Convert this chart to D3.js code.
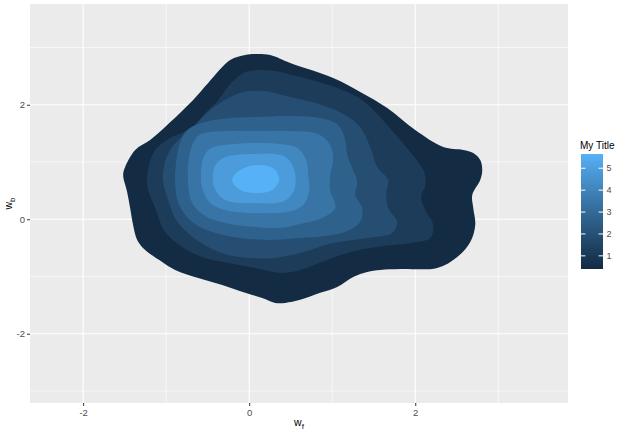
<!DOCTYPE html>
<html><head><meta charset="utf-8">
<script src="https://cdn.jsdelivr.net/npm/d3@7"></script>
<style>body{margin:0;background:#fff} svg{display:block}</style>
</head><body><svg id="chart" width="625" height="435"></svg>
<script>
// ---- data: density contour levels (outer -> inner) and their outlines in data units (w_f, w_b)
const levels = [0.40, 1.15, 1.90, 2.65, 3.40, 4.15, 4.90, 5.65];
const legendBreaks = [1, 2, 3, 4, 5];
const xBreaks = [-2, 0, 2];
const yBreaks = [-2, 0, 2];
const xMinor = [-1, 1, 3];
const yMinor = [-3, -1, 1, 3];

const contour1 = [[0.072,2.885],[0.253,2.867],[0.494,2.728],[1.012,2.466],[1.337,2.222],[1.663,1.942],[2.000,1.558],[2.337,1.262],[2.578,1.210],[2.699,1.157],[2.783,1.035],[2.807,0.860],[2.783,0.686],[2.687,0.424],[2.699,0.197],[2.723,-0.099],[2.663,-0.396],[2.506,-0.658],[2.265,-0.850],[1.819,-0.868],[1.578,-0.885],[1.422,-0.920],[1.253,-1.007],[1.060,-1.182],[0.855,-1.286],[0.614,-1.408],[0.434,-1.461],[0.313,-1.461],[0.157,-1.374],[-0.048,-1.286],[-0.325,-1.147],[-0.614,-1.025],[-0.892,-0.885],[-1.048,-0.746],[-1.253,-0.536],[-1.349,-0.361],[-1.398,-0.099],[-1.434,0.197],[-1.470,0.476],[-1.518,0.773],[-1.494,0.913],[-1.373,1.210],[-1.193,1.384],[-1.000,1.628],[-0.675,2.082],[-0.494,2.379],[-0.229,2.780],[-0.048,2.867]];
const contour2 = [[0.108,2.606],[0.313,2.588],[0.518,2.518],[0.795,2.414],[1.096,2.274],[1.361,2.082],[1.554,1.820],[1.735,1.524],[1.940,1.175],[2.108,0.825],[2.120,0.599],[2.072,0.389],[2.120,0.162],[2.217,-0.099],[2.181,-0.326],[1.940,-0.414],[1.735,-0.449],[1.542,-0.483],[1.217,-0.571],[0.940,-0.711],[0.614,-0.885],[0.373,-0.937],[0.072,-0.850],[-0.253,-0.763],[-0.566,-0.658],[-0.807,-0.483],[-1.012,-0.222],[-1.133,0.197],[-1.229,0.599],[-1.205,0.948],[-1.133,1.210],[-0.952,1.419],[-0.699,1.593],[-0.530,1.855],[-0.373,2.082],[-0.229,2.361],[-0.048,2.571]];
const contour3 = [[0.012,2.239],[0.193,2.239],[0.398,2.169],[0.651,2.082],[0.916,1.977],[1.157,1.820],[1.337,1.611],[1.458,1.262],[1.542,0.913],[1.675,0.686],[1.651,0.459],[1.675,0.197],[1.783,-0.047],[1.723,-0.239],[1.422,-0.326],[1.012,-0.414],[0.614,-0.588],[0.313,-0.676],[0.012,-0.676],[-0.253,-0.623],[-0.494,-0.483],[-0.711,-0.274],[-0.880,-0.012],[-0.976,0.337],[-1.036,0.651],[-1.024,0.948],[-0.952,1.210],[-0.831,1.419],[-0.651,1.646],[-0.470,1.908],[-0.253,2.117],[-0.108,2.204]];
const contour4 = [[-0.747,1.558],[-0.530,1.698],[-0.229,1.768],[0.072,1.785],[0.494,1.803],[0.855,1.768],[1.072,1.646],[1.157,1.384],[1.181,1.122],[1.241,0.895],[1.301,0.651],[1.277,0.424],[1.361,0.197],[1.337,-0.047],[1.157,-0.222],[0.916,-0.291],[0.614,-0.326],[0.253,-0.361],[-0.108,-0.326],[-0.446,-0.222],[-0.687,-0.047],[-0.843,0.250],[-0.892,0.599],[-0.880,0.999],[-0.831,1.349]];
const contour5 = [[-0.602,1.471],[-0.289,1.541],[0.072,1.541],[0.494,1.541],[0.831,1.489],[0.976,1.297],[1.012,1.035],[0.976,0.773],[0.976,0.511],[1.036,0.197],[0.880,0.023],[0.614,-0.082],[0.361,-0.152],[0.072,-0.134],[-0.229,-0.082],[-0.530,0.058],[-0.687,0.284],[-0.735,0.599],[-0.735,0.948],[-0.699,1.244]];
const contour6 = [[-0.458,1.244],[-0.169,1.314],[0.072,1.332],[0.373,1.314],[0.578,1.244],[0.687,1.035],[0.711,0.773],[0.723,0.511],[0.651,0.250],[0.458,0.127],[0.193,0.110],[-0.024,0.110],[-0.289,0.162],[-0.470,0.284],[-0.566,0.546],[-0.578,0.860],[-0.542,1.105]];
const contour7 = [[-0.313,1.070],[0.072,1.140],[0.434,1.087],[0.542,0.860],[0.542,0.511],[0.422,0.319],[0.072,0.284],[-0.289,0.337],[-0.422,0.564],[-0.422,0.895]];
const contour8 = [[-0.205,0.686],[-0.108,0.860],[0.108,0.948],[0.301,0.878],[0.361,0.686],[0.277,0.511],[0.072,0.459],[-0.108,0.511]];
const contours = [contour1, contour2, contour3, contour4, contour5, contour6, contour7, contour8];

// ---- layout
const P = {left: 30, right: 568, top: 4, bottom: 403};
const FONT = "'Liberation Sans', Arial, Helvetica, sans-serif";
const svg = d3.select("#chart");

const x = d3.scaleLinear().domain([-2.64, 3.84]).range([P.left, P.right]);
const y = d3.scaleLinear().domain([-3.21, 3.76]).range([P.bottom, P.top]);

svg.append("rect").attr("x", P.left).attr("y", P.top)
  .attr("width", P.right - P.left).attr("height", P.bottom - P.top).attr("fill", "#EBEBEB");

const grid = svg.append("g").attr("stroke", "#FFFFFF").attr("fill", "none");
xMinor.forEach(v => grid.append("line").attr("x1", x(v)).attr("x2", x(v)).attr("y1", P.top).attr("y2", P.bottom).attr("stroke-width", 0.6));
yMinor.forEach(v => grid.append("line").attr("y1", y(v)).attr("y2", y(v)).attr("x1", P.left).attr("x2", P.right).attr("stroke-width", 0.6));
xBreaks.forEach(v => grid.append("line").attr("x1", x(v)).attr("x2", x(v)).attr("y1", P.top).attr("y2", P.bottom).attr("stroke-width", 1.1));
yBreaks.forEach(v => grid.append("line").attr("y1", y(v)).attr("y2", y(v)).attr("x1", P.left).attr("x2", P.right).attr("stroke-width", 1.1));

const color = d3.scaleSequential(d3.interpolateLab("#132B43", "#56B1F7")).domain(d3.extent(levels));
const line = d3.line().x(d => x(d[0])).y(d => y(d[1])).curve(d3.curveCatmullRomClosed.alpha(0.5));

svg.append("g").selectAll("path").data(contours).join("path")
  .attr("d", d => line(d))
  .attr("fill", (d, i) => color(levels[i]));

// ---- axes
const fmt = d => String(d);
const xAxis = svg.append("g").attr("transform", `translate(0,${P.bottom})`)
  .call(d3.axisBottom(x).tickValues(xBreaks).tickSize(3).tickPadding(3.5).tickFormat(fmt));
const yAxis = svg.append("g").attr("transform", `translate(${P.left},0)`)
  .call(d3.axisLeft(y).tickValues(yBreaks).tickSize(3).tickPadding(2).tickFormat(fmt));
[xAxis, yAxis].forEach(a => {
  a.select(".domain").remove();
  a.selectAll(".tick line").attr("stroke", "#333333").attr("stroke-width", 1);
  a.selectAll(".tick text").attr("fill", "#4D4D4D").style("font-family", FONT).style("font-size", "9.5px");
});

// axis titles
const xt = svg.append("text").attr("x", (P.left + P.right) / 2).attr("y", 426)
  .attr("text-anchor", "middle").style("font-family", FONT).style("font-size", "10.5px").attr("fill", "#000");
xt.append("tspan").text("w");
xt.append("tspan").attr("dy", 3).style("font-size", "8px").text("f");

const yt = svg.append("text").attr("transform", `translate(12,${(P.top + P.bottom) / 2}) rotate(-90)`)
  .attr("text-anchor", "middle").style("font-family", FONT).style("font-size", "10.5px").attr("fill", "#000");
yt.append("tspan").text("w");
yt.append("tspan").attr("dy", 3).style("font-size", "8px").text("b");

// ---- legend (colourbar)
const L = {x: 581, w: 22, top: 154, bottom: 269};
const ls = d3.scaleLinear().domain(d3.extent(levels)).range([L.bottom, L.top]);
const defs = svg.append("defs");
const grad = defs.append("linearGradient").attr("id", "cbar").attr("x1", 0).attr("x2", 0).attr("y1", 1).attr("y2", 0);
d3.range(0, 1.0001, 0.1).forEach(t => {
  grad.append("stop").attr("offset", t).attr("stop-color", color(levels[0] + t * (levels[levels.length - 1] - levels[0])));
});
svg.append("text").attr("x", 580).attr("y", 149).style("font-family", FONT).style("font-size", "10px")
  .attr("fill", "#000").text("My Title");
svg.append("rect").attr("x", L.x).attr("y", ls(levels[levels.length - 1]))
  .attr("width", L.w).attr("height", ls(levels[0]) - ls(levels[levels.length - 1])).attr("fill", "url(#cbar)");
const lg = svg.append("g");
legendBreaks.forEach(b => {
  const yy = ls(b);
  lg.append("line").attr("x1", L.x).attr("x2", L.x + 4.4).attr("y1", yy).attr("y2", yy).attr("stroke", "#fff").attr("stroke-width", 1);
  lg.append("line").attr("x1", L.x + L.w - 4.4).attr("x2", L.x + L.w).attr("y1", yy).attr("y2", yy).attr("stroke", "#fff").attr("stroke-width", 1);
  lg.append("text").attr("x", L.x + L.w + 3.5).attr("y", yy).attr("dy", "0.35em")
    .style("font-family", FONT).style("font-size", "9px").attr("fill", "#4D4D4D").text(b);
});
</script></body></html>
